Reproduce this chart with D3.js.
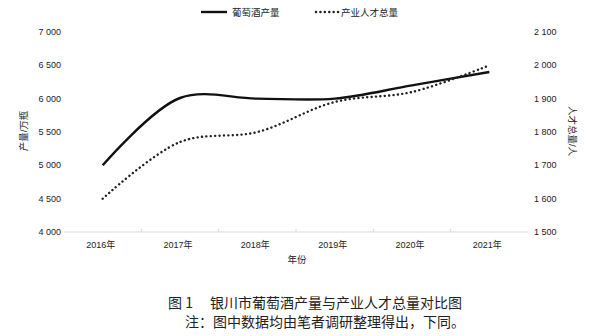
<!DOCTYPE html>
<html>
<head>
<meta charset="utf-8">
<script src="https://cdn.jsdelivr.net/npm/d3@7"></script>
<style>
  body { margin: 0; background: #fff; }
  text { font-family: "Liberation Sans", "Noto Sans CJK SC", sans-serif; fill: #222; }
</style>
</head>
<body>
<div id="chart"></div>
<script>
// data
var years = ["2016年", "2017年", "2018年", "2019年", "2020年", "2021年"];
var wineOutput = [5000, 6010, 6000, 6000, 6200, 6400];   // 万瓶
var talentTotal = [1600, 1770, 1800, 1890, 1920, 2000];  // 人
var leftTicks = [4000, 4500, 5000, 5500, 6000, 6500, 7000];
var rightTicks = [1500, 1600, 1700, 1800, 1900, 2000, 2100];

var width = 591, height = 336;
var margin = {top: 32, left: 64, right: 528, bottom: 232};

var svg = d3.select("#chart").append("svg")
    .attr("width", width)
    .attr("height", height);

var fmt = function(d) { return d3.format(",")(d).replace(",", " "); };

var x = d3.scaleBand().domain(years).range([margin.left, margin.right]);
var yL = d3.scaleLinear().domain([4000, 7000]).range([margin.bottom, margin.top]);
var yR = d3.scaleLinear().domain([1500, 2100]).range([margin.bottom, margin.top]);

// x axis
var xAxis = svg.append("g")
    .attr("transform", "translate(0," + margin.bottom + ")");
xAxis.append("line")
    .attr("x1", margin.left).attr("x2", margin.right)
    .attr("stroke", "#d9d9d9").attr("stroke-width", 1);
xAxis.selectAll(".tk")
  .data(years.slice(1))
  .enter().append("line")
    .attr("x1", function(d) { return x(d); })
    .attr("x2", function(d) { return x(d); })
    .attr("y1", 0).attr("y2", -3)
    .attr("stroke", "#d9d9d9");
xAxis.selectAll(".lb")
  .data(years)
  .enter().append("text")
    .attr("x", function(d) { return x(d) + x.bandwidth() / 2 - 2; })
    .attr("y", 16)
    .attr("text-anchor", "middle")
    .style("font-size", "9px")
    .text(function(d) { return d; });

svg.append("text")
    .attr("x", 297).attr("y", 263)
    .attr("text-anchor", "middle")
    .style("font-size", "9.5px")
    .text("年份");

// left axis labels
svg.selectAll(".lt")
  .data(leftTicks)
  .enter().append("text")
    .attr("x", 61)
    .attr("y", function(d) { return yL(d) + 3; })
    .attr("text-anchor", "end")
    .style("font-size", "9px")
    .text(fmt);

// right axis labels
svg.selectAll(".rt")
  .data(rightTicks)
  .enter().append("text")
    .attr("x", 534)
    .attr("y", function(d) { return yR(d) + 3; })
    .attr("text-anchor", "start")
    .style("font-size", "9px")
    .text(fmt);

svg.append("text")
    .attr("transform", "translate(27,131) rotate(-90)")
    .attr("text-anchor", "middle")
    .style("font-size", "9.5px")
    .text("产量/万瓶");

svg.append("text")
    .attr("transform", "translate(569,131) rotate(90)")
    .attr("text-anchor", "middle")
    .style("font-size", "9.5px")
    .text("人才总量/人");

// lines
var cx = function(d, i) { return x(years[i]) + x.bandwidth() / 2; };

svg.append("path")
    .datum(wineOutput)
    .attr("fill", "none")
    .attr("stroke", "#111")
    .attr("stroke-width", 2.4)
    .attr("d", d3.line()
        .curve(d3.curveCatmullRom.alpha(0.5))
        .x(cx)
        .y(function(d) { return yL(d); }));

svg.append("path")
    .datum(talentTotal)
    .attr("fill", "none")
    .attr("stroke", "#222")
    .attr("stroke-width", 2.4)
    .attr("stroke-linecap", "round")
    .attr("stroke-dasharray", "0.1 4.3")
    .attr("d", d3.line()
        .curve(d3.curveCatmullRom.alpha(0.5))
        .x(cx)
        .y(function(d) { return yR(d); }));

// legend
var lg = svg.append("g");
lg.append("line")
    .attr("x1", 201).attr("x2", 227).attr("y1", 12).attr("y2", 12)
    .attr("stroke", "#111").attr("stroke-width", 2.4);
lg.append("text")
    .attr("x", 232).attr("y", 15.5)
    .style("font-size", "9.5px")
    .text("葡萄酒产量");
lg.append("line")
    .attr("x1", 316).attr("x2", 340).attr("y1", 12).attr("y2", 12)
    .attr("stroke", "#222").attr("stroke-width", 2.4)
    .attr("stroke-linecap", "round")
    .attr("stroke-dasharray", "0.1 4.3");
lg.append("text")
    .attr("x", 341).attr("y", 15.5)
    .style("font-size", "9.5px")
    .text("产业人才总量");

// caption
svg.append("text")
    .attr("x", 168).attr("y", 308)
    .style("font-size", "14px")
    .style("font-family", "'Noto Sans CJK SC', sans-serif")
    .attr("fill", "#333")
    .text("图 1　 银川市葡萄酒产量与产业人才总量对比图");
svg.append("text")
    .attr("x", 185).attr("y", 327)
    .style("font-size", "14px")
    .style("font-family", "'Noto Sans CJK SC', sans-serif")
    .text("注：图中数据均由笔者调研整理得出，下同。");
</script>
</body>
</html>
